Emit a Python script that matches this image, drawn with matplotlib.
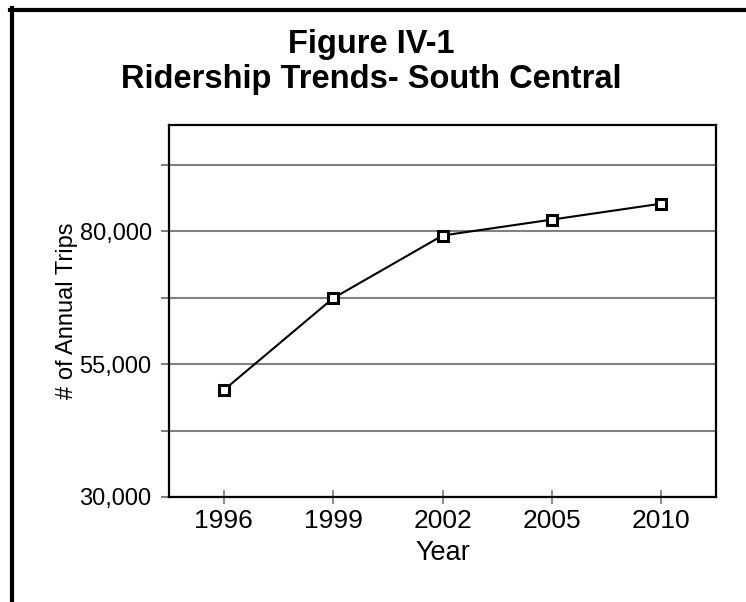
import matplotlib
matplotlib.use("Agg")
import matplotlib.pyplot as plt
from matplotlib.lines import Line2D
from matplotlib.ticker import FuncFormatter, FixedLocator

years = ["1996", "1999", "2002", "2005", "2010"]
trips = [50100, 67400, 79200, 82200, 85200]
y_major = [30000, 55000, 80000]
y_minor = [42500, 67500, 92500]
title_line1 = "Figure IV-1"
title_line2 = "Ridership Trends- South Central"

plt.rcParams['font.family'] = ['Liberation Sans', 'DejaVu Sans']

fig = plt.figure(figsize=(7.46, 6.02), dpi=100)
ax = fig.add_axes([169/746, 1-497/602, (716-169)/746, (497-125)/602])

x = list(range(len(years)))
ax.plot(x, trips, color='black', lw=1.5, marker='s', markersize=6.5,
        markerfacecolor='white', markeredgecolor='black', markeredgewidth=2.2,
        zorder=5, clip_on=False)

ax.set_xlim(-0.5, len(years) - 0.5)
ax.set_ylim(30000, 100000)
ax.set_xticks(x)
ax.set_xticklabels(years)
ax.set_yticks(y_major)
ax.yaxis.set_minor_locator(FixedLocator(y_minor))
ax.yaxis.set_major_formatter(FuncFormatter(lambda v, p: f"{int(v):,}"))

ax.grid(axis='y', which='both', color='#808080', lw=1.5)
ax.set_axisbelow(True)
ax.tick_params(axis='y', which='both', direction='out', length=5.5, width=1.5,
               color='#808080', labelsize=17, pad=7)
ax.tick_params(axis='x', direction='inout', length=9.5, width=1.3,
               color='#808080', labelsize=19, pad=4)
for s in ax.spines.values():
    s.set_linewidth(1.6)
    s.set_color('black')
    s.set_zorder(3)

ax.set_ylabel("# of Annual Trips", fontsize=17)
ax.yaxis.set_label_coords((67-169)/(716-169), 0.5)
ax.set_xlabel("Year", fontsize=19.5)
ax.xaxis.set_label_coords(0.5, -(553-497)/(497-125))
ax.xaxis.label.set_va('center')
ax.yaxis.label.set_va('center')

fig.text(0.497, 1-53/602, title_line1, ha='center', va='baseline',
         fontsize=23.5, fontweight='bold')
fig.text(0.497, 1-88/602, title_line2, ha='center', va='baseline',
         fontsize=23.5, fontweight='bold')

fig.add_artist(Line2D([12/746, 12/746], [0, 1-8/602], transform=fig.transFigure,
                      color='black', lw=3))
fig.add_artist(Line2D([10/746, 1], [1-10/602, 1-10/602], transform=fig.transFigure,
                      color='black', lw=3))

fig.savefig("out.png", dpi=100)
